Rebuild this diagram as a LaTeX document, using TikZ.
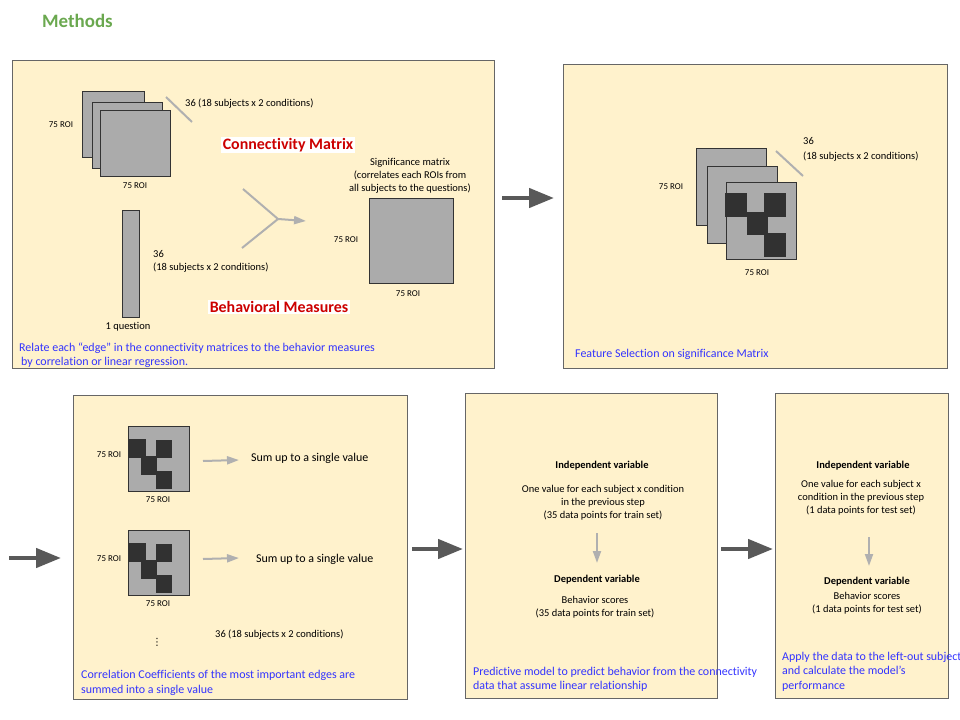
\documentclass[tikz,border=0pt]{standalone}
\usepackage{fontspec}
\setmainfont{Carlito}[Ligatures={NoCommon}]
\newfontfamily\symfont{DejaVu Sans}
\usetikzlibrary{arrows.meta,shapes}

\definecolor{panelfill}{HTML}{FFF2CC}
\definecolor{panelline}{HTML}{666666}
\definecolor{matfill}{HTML}{ABABAB}
\definecolor{matline}{HTML}{333333}
\definecolor{blkfill}{HTML}{313131}
\definecolor{arrgray}{HTML}{B0B0B0}
\definecolor{arrdark}{HTML}{595959}
\definecolor{noteblue}{HTML}{3333FF}
\definecolor{headred}{HTML}{CC0000}
\definecolor{titlegreen}{HTML}{6AA84F}

\tikzset{
  panel/.style={draw=panelline,fill=panelfill,line width=1bp,anchor=north west,inner sep=0},
  mat/.style={draw=matline,fill=matfill,line width=1bp,anchor=north west,inner sep=0},
  txt/.style={font=\fontsize{10.5}{13}\selectfont,inner sep=0},
  btxt/.style={font=\bfseries\fontsize{10.5}{13}\selectfont,inner sep=0},
  roi/.style={font=\fontsize{9}{11}\selectfont,inner sep=0},
  note/.style={font=\fontsize{12}{14.5}\selectfont,text=noteblue,inner sep=0,anchor=west,align=left},
  redtitle/.style={font=\bfseries\fontsize{16}{19}\selectfont,text=headred,fill=white,inner sep=1.5bp},
  depthln/.style={draw=arrgray,line width=2bp},
  lightarrow/.style={draw=arrgray,line width=2bp,-{Triangle[length=12bp,width=8bp]}},
  darkarrow/.style={draw=arrdark,line width=4.5bp,-{Triangle[length=25bp,width=19bp]}},
}

\begin{document}
\begin{tikzpicture}
\useasboundingbox (0,0) rectangle (960bp,-720bp);
\clip (0,0) rectangle (960bp,-720bp);

\node (TT) at (42bp,-21bp)[anchor=west,inner sep=0,font=\bfseries\fontsize{19}{22}\selectfont,text=titlegreen] {Methods};

% step 1
\node (P1) at (12bp,-60bp)[panel,minimum width=482bp,minimum height=308bp] {};
\node (M1) at (82bp,-91bp)[mat,minimum width=62bp,minimum height=66bp] {};
\node (M2) at (92bp,-102bp)[mat,minimum width=70bp,minimum height=66bp] {};
\node (M3) at (100bp,-110bp)[mat,minimum width=70bp,minimum height=66bp] {};
\node (R1) at (61bp,-125bp)[roi] {75 ROI};
\node (R2) at (135bp,-186bp)[roi] {75 ROI};
\coordinate (D1a) at (166bp,-97bp);
\coordinate (D1b) at (192bp,-122bp);
\draw [depthln] (D1a) -- (D1b);
\node (N1) at (185bp,-104bp)[txt,anchor=west] {36 (18 subjects x 2 conditions)};
\node (CM) at (288bp,-145bp)[redtitle] {Connectivity Matrix};
\node (BV) at (122bp,-210bp)[mat,minimum width=17bp,minimum height=107bp] {};
\node (Q1) at (128bp,-327bp)[txt] {1 question};
\node (N2) at (153bp,-261.5bp)[txt,anchor=west,align=left] {36\\(18 subjects x 2 conditions)};
\coordinate (Yt) at (243bp,-189bp);
\coordinate (Yb) at (242bp,-248bp);
\coordinate (Yj) at (278bp,-219bp);
\coordinate (Ye) at (306bp,-221bp);
\draw [depthln] (Yt) -- (Yj);
\draw [depthln] (Yb) -- (Yj);
\draw [lightarrow] (Yj) -- (Ye);
\node (SM) at (410bp,-176bp)[txt,align=center] {Significance matrix\\(correlates each ROIs from\\all subjects to the questions)};
\node (M4) at (369bp,-198bp)[mat,minimum width=84bp,minimum height=85bp] {};
\node (R3) at (346bp,-240bp)[roi] {75 ROI};
\node (R4) at (408bp,-294bp)[roi] {75 ROI};
\node (BM) at (279bp,-307bp)[redtitle] {Behavioral Measures};
\node (T1) at (19bp,-355bp)[note] {Relate each “edge” in the connectivity matrices to the behavior measures\\\hspace*{2bp}by correlation or linear regression.};

\coordinate (A1s) at (502bp,-198bp);
\coordinate (A1e) at (554bp,-198bp);
\draw [darkarrow] (A1s) -- (A1e);

% step 2
\node (P2) at (563bp,-64bp)[panel,minimum width=384bp,minimum height=304bp] {};
\node (M5) at (696bp,-148bp)[mat,minimum width=70bp,minimum height=77bp] {};
\node (M6) at (707bp,-166bp)[mat,minimum width=70bp,minimum height=77bp] {};
\node (M7) at (726bp,-182bp)[mat,minimum width=70bp,minimum height=77bp] {};
\fill [blkfill] (725bp,-193bp) rectangle (747bp,-217bp);
\fill [blkfill] (764bp,-193bp) rectangle (786bp,-217bp);
\fill [blkfill] (747bp,-212bp) rectangle (768bp,-235bp);
\fill [blkfill] (764bp,-233bp) rectangle (786bp,-257bp);
\coordinate (D2a) at (776bp,-151bp);
\coordinate (D2b) at (803bp,-176bp);
\draw [depthln] (D2a) -- (D2b);
\node (N3) at (803bp,-149.5bp)[txt,anchor=west,align=left,font=\fontsize{10.5}{15}\selectfont] {36\\(18 subjects x 2 conditions)};
\node (R5) at (671bp,-187bp)[roi] {75 ROI};
\node (R6) at (757bp,-273bp)[roi] {75 ROI};
\node (T2) at (575bp,-354bp)[note] {Feature Selection on significance Matrix};

\coordinate (A2s) at (9bp,-558bp);
\coordinate (A2e) at (61bp,-558bp);
\draw [darkarrow] (A2s) -- (A2e);

% step 3
\node (P3) at (73bp,-395bp)[panel,minimum width=334bp,minimum height=304bp] {};
\node (M8) at (128bp,-426bp)[mat,minimum width=61bp,minimum height=65bp] {};
\fill [blkfill] (128bp,-439bp) rectangle (146bp,-458bp);
\fill [blkfill] (156bp,-440bp) rectangle (172bp,-458bp);
\fill [blkfill] (141bp,-456bp) rectangle (157bp,-475bp);
\fill [blkfill] (156bp,-471bp) rectangle (172bp,-489bp);
\node (R7) at (109bp,-455bp)[roi] {75 ROI};
\node (R8) at (158bp,-500bp)[roi] {75 ROI};
\coordinate (S1s) at (203bp,-461bp);
\coordinate (S1e) at (239bp,-460bp);
\draw [lightarrow] (S1s) -- (S1e);
\node (SU1) at (251bp,-458bp)[txt,anchor=west,font=\fontsize{12}{14}\selectfont] {Sum up to a single value};
\node (M9) at (128bp,-530bp)[mat,minimum width=61bp,minimum height=65bp] {};
\fill [blkfill] (128bp,-543bp) rectangle (146bp,-562bp);
\fill [blkfill] (156bp,-544bp) rectangle (172bp,-562bp);
\fill [blkfill] (141bp,-560bp) rectangle (157bp,-579bp);
\fill [blkfill] (156bp,-575bp) rectangle (172bp,-593bp);
\node (R9) at (109bp,-559bp)[roi] {75 ROI};
\node (R10) at (158bp,-604bp)[roi] {75 ROI};
\coordinate (S2s) at (203bp,-559bp);
\coordinate (S2e) at (239bp,-558bp);
\draw [lightarrow] (S2s) -- (S2e);
\node (SU2) at (256bp,-559bp)[txt,anchor=west,font=\fontsize{12}{14}\selectfont] {Sum up to a single value};
\node (VD) at (157bp,-642bp)[inner sep=0,font=\symfont\fontsize{10}{12}\selectfont] {⋮};
\node (N4) at (215bp,-635bp)[txt,anchor=west] {36 (18 subjects x 2 conditions)};
\node (T3) at (81bp,-683bp)[note] {Correlation Coefficients of the most important edges are\\summed into a single value};

\coordinate (A3s) at (412bp,-549bp);
\coordinate (A3e) at (463bp,-549bp);
\draw [darkarrow] (A3s) -- (A3e);

% step 4
\node (P4) at (465bp,-393bp)[panel,minimum width=252bp,minimum height=305bp] {};
\node (IV1) at (602bp,-466bp)[btxt] {Independent variable};
\node (OV1) at (603bp,-502.7bp)[txt,align=center] {One value for each subject x condition\\in the previous step\\(35 data points for train set)};
\coordinate (V1s) at (597bp,-533bp);
\coordinate (V1e) at (597bp,-563bp);
\draw [lightarrow] (V1s) -- (V1e);
\node (DV1) at (597bp,-580bp)[btxt] {Dependent variable};
\node (BS1) at (595bp,-607.5bp)[txt,align=center] {Behavior scores\\(35 data points for train set)};
\node (T4) at (473bp,-679.5bp)[note] {Predictive model to predict behavior from the connectivity\\data that assume linear relationship};

\coordinate (A4s) at (721bp,-549bp);
\coordinate (A4e) at (773bp,-549bp);
\draw [darkarrow] (A4s) -- (A4e);

% step 5
\node (P5) at (775bp,-393bp)[panel,minimum width=173bp,minimum height=305bp] {};
\node (IV2) at (863bp,-466bp)[btxt] {Independent variable};
\node (OV2) at (861bp,-498bp)[txt,align=center] {One value for each subject x\\condition in the previous step\\(1 data points for test set)};
\coordinate (V2s) at (869bp,-537bp);
\coordinate (V2e) at (869bp,-566bp);
\draw [lightarrow] (V2s) -- (V2e);
\node (DV2) at (867bp,-582bp)[btxt] {Dependent variable};
\node (BS2) at (867bp,-603bp)[txt,align=center] {Behavior scores\\(1 data points for test set)};
\node (T5) at (782bp,-671.5bp)[note] {Apply the data to the left-out subject\\and calculate the model’s\\performance};
\end{tikzpicture}
\end{document}
